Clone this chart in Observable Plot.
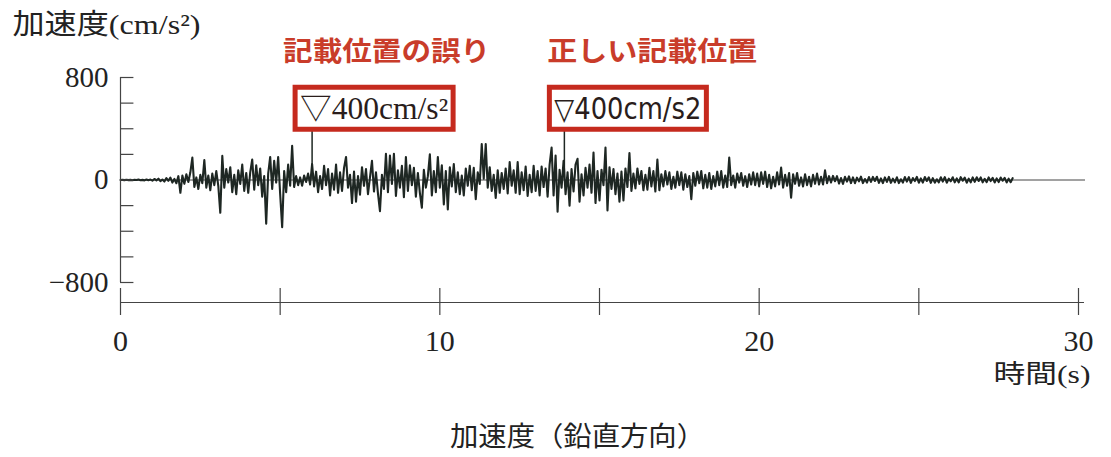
<!DOCTYPE html>
<html>
<head>
<meta charset="utf-8">
<script src="https://cdn.jsdelivr.net/npm/d3@7"></script>
<script src="https://cdn.jsdelivr.net/npm/@observablehq/plot@0.6"></script>
<style>
  html, body { margin: 0; padding: 0; background: #fff; }
  #chart svg { display: block; }
</style>
</head>
<body>
<div id="chart"></div>
<script>
// ---------------- data ----------------
const yAxisTitle = "加速度(cm/s²)";
const xAxisTitle = "時間(s)";
const caption = "加速度（鉛直方向）";

const xTicks = [0, 5, 10, 15, 20, 25, 30];
const xTickLabels = [0, 10, 20, 30];
const yTicks = [-800, -600, -400, -200, 0, 200, 400, 600, 800];
const yTickLabels = [-800, 0, 800];

const sampleInterval = 1 / 16; // s

// acceleration samples (cm/s²), one row per second
const accel = [
  [0,1,-1,2,-1,1,-2,2,0,3,-2,1,-3,4,-2,3],
  [-5,8,-3,10,-9,4,-12,15,-6,18,-20,8,-25,30,-100,35],
  [-30,45,-15,60,175,-55,20,-70,40,-25,155,-60,35,-80,50,-40],
  [70,-45,-256,188,-60,85,-20,100,-95,40,-110,75,-30,120,-85,55],
  [-100,60,160,-75,115,-40,90,-130,30,-342,50,180,-70,150,-20,180],
  [-110,-368,70,-95,120,-45,266,-55,30,-40,20,-45,35,-15,50,-35],
  [125,-50,65,-95,30,-70,110,-40,85,-120,50,-75,120,-100,60,-85],
  [95,180,-60,40,-180,65,-170,30,-115,100,-45,85,-110,20,150,-90],
  [60,-105,-243,40,-70,204,-95,190,-30,204,-125,75,-60,110,-135,180],
  [-85,115,-40,95,-130,55,-100,-217,80,-60,30,200,-120,70,-95,180],
  [-60,115,-190,70,-230,100,-50,125,-95,60,-110,35,-120,90,-45,110],
  [-80,95,-150,60,-30,280,10,280,-60,100,-85,40,-140,75,-100,55],
  [-70,90,-105,140,-45,75,-100,140,-110,60,-80,105,-125,40,-95,110],
  [-85,70,-120,105,-55,90,-130,120,253,-120,190,-248,80,-60,150,-110],
  [60,-200,85,-90,120,165,-170,45,-120,95,-60,120,-100,214,-180,70],
  [-160,80,-40,253,-237,100,-70,85,-110,50,-170,65,-160,90,-55,210],
  [-85,50,-65,90,-30,70,-80,40,-75,95,-50,70,-90,160,-80,45],
  [-50,70,-35,60,-70,25,-60,65,-40,60,-75,45,-55,30,-150,55],
  [-45,65,-25,70,-65,40,-60,55,-70,30,-50,65,-40,70,-60,35],
  [-55,175,-40,35,-60,50,-20,55,-45,30,-55,45,-35,60,-40,50],
  [-50,60,-30,65,-55,40,-65,25,-50,60,-35,97,-60,40,-45,55],
  [-138,45,-30,55,-45,20,-50,45,-40,25,-50,40,-30,50,-35,25],
  [-35,75,-25,30,-20,32,-10,30,-28,15,-30,25,-12,28,-24,20],
  [-25,18,-10,26,-24,8,-20,23,-15,24,-8,25,-23,12,-24,20],
  [-15,24,-22,10,-18,21,-24,6,-20,23,-12,22,-23,15,-8,24],
  [-21,12,-20,23,-8,21,-22,14,-21,6,-19,21,-12,22,-21,10],
  [-10,21,-18,12,-19,22,-6,18,-21,10,-18,20,-14,21,-8,20],
  [-18,9,-17,20,-8,17,-19,12,-16,19,-6,17,-19,10,-17,14]
];

// annotations
const annoTimes = [6.0, 13.9];
const annoValues = [400, 400];
const annoLabels = ["▽400cm/s²", "▽400cm/s2"];
const annoTitles = ["記載位置の誤り", "正しい記載位置"];

// ---------------- build ----------------
const wave = accel.flat().map((a, i) => ({t: i * sampleInterval, a}));
const annos = annoTimes.map((t, i) => ({t, v: annoValues[i], label: annoLabels[i], title: annoTitles[i]}));

// styles
const serif = "'Liberation Serif', 'Noto Sans CJK JP', serif";
const cjk = "'Noto Sans CJK JP', 'Liberation Serif', sans-serif";
const red = "#c52a1e";
const titleRed = "#c93c2a";
const labelFonts = [serif, "'Liberation Sans Narrow', 'DejaVu Sans Condensed', 'Liberation Sans', sans-serif"];
const labelSizes = [31, 30];
const titleDx = [-29, -17];
const labelDx = [-12, -10];

const annoMarks = annos.flatMap((d, i) => [
  Plot.text([d], {x: "t", y: "v", text: "title", textAnchor: "start", lineAnchor: "middle",
    dx: titleDx[i], dy: -76, fill: titleRed, fontWeight: "bold", fontSize: 27, fontFamily: cjk}),
  Plot.text([d], {x: "t", y: "v", text: "label", textAnchor: "start", lineAnchor: "bottom",
    dx: labelDx[i], dy: -10, fill: "#2a1d1b", fontSize: labelSizes[i], fontFamily: labelFonts[i]})
]);

const chart = Plot.plot({
  width: 1111,
  height: 457,
  marginLeft: 120,
  marginRight: 33,
  marginTop: 77,
  marginBottom: 175,
  x: {domain: [0, 30]},
  y: {domain: [-800, 800]},
  style: {fontFamily: serif, fontSize: "29px", color: "#222", background: "#fff"},
  marks: [
    // zero baseline
    Plot.ruleY([0], {stroke: "#444", strokeWidth: 1, insetRight: -7}),
    // waveform
    Plot.line(wave, {x: "t", y: "a", stroke: "#1e2723", strokeWidth: 2.1, strokeLinejoin: "round"}),
    // annotation pointers
    Plot.ruleX(annos, {x: "t", y1: 0, y2: "v", stroke: "#1e2723", strokeWidth: 1.5}),
    // y axis line + ticks
    Plot.ruleX([0], {y1: yTicks[0], y2: yTicks[yTicks.length - 1], stroke: "#444", strokeWidth: 1.2}),
    Plot.ruleY(yTicks, {x1: 0, x2: 0.42, stroke: "#444", strokeWidth: 1.2}),
    Plot.axisY({ticks: yTickLabels, tickSize: 0, tickPadding: 12, label: null, fontSize: 29, fill: "#222"}),
    // x axis line + ticks
    Plot.ruleY([yTicks[0]], {dy: 20, stroke: "#444", strokeWidth: 1.2, insetRight: -6}),
    Plot.axisX({ticks: xTicks, tickSize: 27, dy: 6, tickFormat: () => "", label: null, stroke: "#444", strokeWidth: 1.2}),
    Plot.axisX({ticks: xTickLabels, tickSize: 0, tickPadding: 47, label: null, fontSize: 30, fill: "#222"}),
    // titles
    Plot.text([yAxisTitle], {frameAnchor: "top-left", dx: -108, dy: -52, textAnchor: "start", lineAnchor: "middle",
      fontSize: 28, fontFamily: serif, fill: "#222"}),
    Plot.text([xAxisTitle], {frameAnchor: "bottom-right", dx: 12, dy: 92, textAnchor: "end", lineAnchor: "middle",
      fontSize: 26, fontFamily: serif, fill: "#222"}),
    Plot.text([caption], {frameAnchor: "bottom", dx: -22, dy: 155, textAnchor: "middle", lineAnchor: "middle",
      fontSize: 27, fontFamily: cjk, fill: "#222"}),
    ...annoMarks
  ]
});

document.getElementById("chart").appendChild(chart);

// text widths matching the original typesetting
const widths = new Map([[yAxisTitle, 188], [xAxisTitle, 97], [caption, 255],
  [annoTitles[0], 207], [annoTitles[1], 210], [annoLabels[0], 148], [annoLabels[1], 147]]);
chart.querySelectorAll("text").forEach(t => {
  const w = widths.get(t.textContent);
  if (w) { t.setAttribute("textLength", w); t.setAttribute("lengthAdjust", "spacingAndGlyphs"); }
});

// red boxes around annotation labels
chart.querySelectorAll("text").forEach(t => {
  if (!annoLabels.includes(t.textContent)) return;
  const b = t.getBBox();
  const padX = 5, padY = 3.5;
  const r = document.createElementNS("http://www.w3.org/2000/svg", "rect");
  r.setAttribute("x", b.x - padX);
  r.setAttribute("y", b.y - padY);
  r.setAttribute("width", b.width + 2 * padX);
  r.setAttribute("height", b.height + 2 * padY);
  r.setAttribute("fill", "#fff");
  r.setAttribute("stroke", red);
  r.setAttribute("stroke-width", 5);
  const tr = t.getAttribute("transform");
  if (tr) r.setAttribute("transform", tr);
  t.parentNode.insertBefore(r, t);
});
</script>
</body>
</html>
